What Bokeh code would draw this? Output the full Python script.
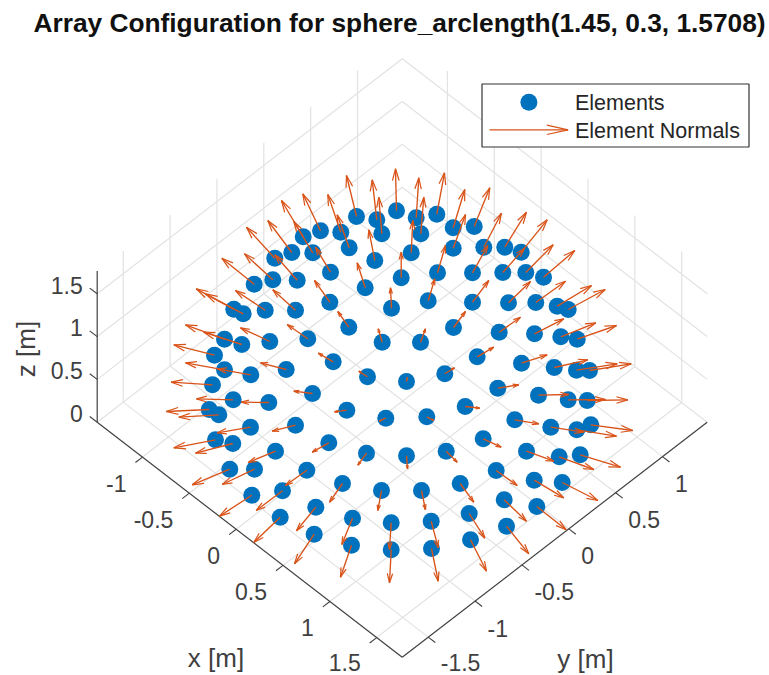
from bokeh.embed import file_html
from bokeh.models import Range1d
from bokeh.plotting import figure
from bokeh.resources import INLINE
import numpy as np

# Axis box (MATLAB-like 3-D view, orthographic projection)
x_limits = [-1.483, 1.772]
y_limits = [-1.778, 1.477]
z_limits = [0.0, 1.765]
x_ticks = [-1, -0.5, 0, 0.5, 1, 1.5]
y_ticks = [-1.5, -1, -0.5, 0, 0.5, 1]
z_ticks = [0, 0.5, 1, 1.5]
x_tick_labels = ["-1", "-0.5", "0", "0.5", "1", "1.5"]
y_tick_labels = ["-1.5", "-1", "-0.5", "0", "0.5", "1"]
z_tick_labels = ["0", "0.5", "1", "1.5"]

# Elements as projected on the picture plane
element_h = [356,376.3,396,381.3,320,340.3,348.7,302.7,291.3,312.3,274.3,374.3,330,296.7,272.3,253.7,364.7,400.7,410.7,329.3,
 295,264.7,233.3,242.7,391,348.3,307.3,269.3,241.3,224,381.7,332.7,285.7,250.3,224,214,212,367,406,312,
 268.3,232.7,208.7,218.3,250,295,346.3,385.3,328.3,215,232.3,275,229.3,254,306.3,366,406,342,381,251.3,
 282,315.3,279.7,352,390.7,313.7,351,390.7,
 415.7,436.3,420.3,452.7,473.7,452.7,483.3,504.3,520.7,472,502.3,525.3,543,437,427.7,472,508,535.3,556.7,567.7,
 453,498.7,534,560.3,576.7,420,476.7,521,553.7,576,589,444.3,497.3,538,567.7,586.7,464.7,426.3,514.3,550.3,
 576.3,590.3,482.7,526,558.7,579.7,445.7,495.7,533.7,561.7,459.7,421,503.7,536.3,468.7,430.7,506,470,431]
element_v = [216,219.3,210.3,233.3,230.3,231.7,247.3,236.3,252,252.3,257.7,260,271.7,279.7,279.3,283.7,287.3,277.3,252.3,301.7,
 309.7,309.7,308.7,313.3,307.7,326.7,338.3,341,344,338.7,341.7,361.3,369,374.3,369.3,354.7,384.3,376.3,381,393,
 402,399.3,409,414.3,426.7,424.7,409.7,417.7,442.3,439.3,443,450.7,468.7,468.7,469.7,452.7,455.3,483,490,494.7,
 490.3,506.7,516.7,517.7,522.3,533.7,544.7,549.3,
 217.3,213.7,233.3,227.3,226,247.7,246.7,246.7,251.7,272.3,272,272,276.7,272.3,300.3,301.7,302.3,302,305.7,309,
 327,331.7,333.3,336.3,338.7,341.7,356.3,362.7,367,369.7,370,373.3,387.7,394.7,399.3,400,406,416.3,419.3,426.7,
 429.3,424.3,438.3,450.7,456.3,454.3,450.7,470,479.7,482,483,490,499.3,506,513,520.7,525.7,539.3,548]
# Tips of the element normals on the same plane
normal_h = [346,371.7,395,378.3,302.3,327.3,336.7,281,267.3,293.3,246,368.3,315,274.3,244,221.3,356.7,400.7,412.3,314,
 272.3,235,195.7,205,390,337.3,286.7,240,203.3,185,377.7,317.7,260,216.7,185,173.3,170.7,358.3,407,293.3,
 240.7,196,165.7,178.3,216.7,271.7,334,378.7,311.7,173.3,195,247.7,191.7,221.7,285,357.3,407,329,377.3,219,
 255.7,296,253.3,341.3,389,294,340,389,
 418.3,444,423.3,464.3,489.3,465,501,526,546.7,487.3,524,552.7,574.3,445,434.3,488.3,530,565,591,604.7,
 465,520,563.3,595.3,616,425,493.3,546.7,587.3,616.7,630.7,454,518.3,568.3,605,627.3,479.3,433.3,538.3,583.3,
 616,632.3,500.7,553.3,593.3,620,456.7,516.7,563.3,597.3,473.3,425,526,565.7,484.3,437.7,528.3,486,437.7]
normal_v = [175,179.3,168.3,196.7,193.3,194,214.3,200,220,221,226.7,229.3,246.7,254.3,253.3,257.7,262.3,251.7,220,280,
 289.3,290,288.3,293.3,287.3,311,324,327.3,331.7,324.3,328.3,352.7,362.3,368.3,362.3,344.3,381.7,370.7,377,390.7,
 401.7,398.3,411,416.7,432.3,430.7,411.3,420.7,451.7,447.3,452.7,462,484.3,484,485,464.7,468.3,501.7,510,515.7,
 510,530.3,542,544,549,563.3,576.7,582.3,
 177.3,172.3,196.7,189,187.3,214,212.7,211.7,219.3,245,247.7,244.3,250,245,278.3,280,281,280.7,285,289,
 311,316.7,318.3,322.3,325,328.3,346.7,354.3,359.3,363.3,363.3,367.3,384.3,394,399,399.3,407.7,420,423.3,431.7,
 435.7,430,446.7,460.7,469,466.7,461.7,485,497.3,500,501.7,509.3,520.7,529.3,537.7,547.3,553.3,570.7,580.7]

title_text = "Array Configuration for sphere_arclength(1.45, 0.3, 1.5708)"
legend_labels = ["Elements", "Element Normals"]

BLUE, ORANGE, DARK, GRID = "#0072BD", "#D95319", "#404040", "#E2E2E2"
W, H = 769, 675
FONT = "Liberation Sans"

# Projection of the 3-D axes box on the picture
ORIGIN = np.array([402.26, 400.4])
EX, EY, EZ = np.array([93.7, 72.2]), np.array([93.7, -72.2]), np.array([0.0, -85.6])
def proj(x, y, z):
    return ORIGIN + x * EX + y * EY + z * EZ

p = figure(width=W, height=H, x_range=Range1d(0, W), y_range=Range1d(H, 0),
           output_backend="svg", toolbar_location=None, min_border=0, outline_line_color=None)
p.axis.visible = False
p.grid.visible = False
p.background_fill_color = "white"

def seg(a, b, **kw):
    a, b = np.array(a), np.array(b)
    p.segment(a[:, 0], a[:, 1], b[:, 0], b[:, 1], **kw)

x0, x1 = x_limits; y0, y1 = y_limits; z0, z1 = z_limits
ga, gb = [], []
for x in x_ticks:
    ga.append(proj(x, y0, z0)); gb.append(proj(x, y1, z0))     # floor
    ga.append(proj(x, y1, z0)); gb.append(proj(x, y1, z1))     # right wall
for y in y_ticks:
    ga.append(proj(x0, y, z0)); gb.append(proj(x1, y, z0))
    ga.append(proj(x0, y, z0)); gb.append(proj(x0, y, z1))
for z in z_ticks:
    ga.append(proj(x0, y0, z)); gb.append(proj(x0, y1, z))
    ga.append(proj(x0, y1, z)); gb.append(proj(x1, y1, z))
seg(ga, gb, line_color=GRID, line_width=1.2)

# Axis lines and ticks
seg([proj(x0, y0, z0), proj(x1, y0, z0), proj(x0, y0, z0)],
    [proj(x1, y0, z0), proj(x1, y1, z0), proj(x0, y0, z1)], line_color=DARK, line_width=1.2)
tick_y = 0.075 * EY
tick_x = 0.075 * EX
ta = [proj(x, y0, z0) for x in x_ticks] + [proj(x1, y, z0) for y in y_ticks] + [proj(x0, y0, z) for z in z_ticks]
tb = [proj(x, y0, z0) - tick_y for x in x_ticks] + [proj(x1, y, z0) + tick_x for y in y_ticks] + \
     [proj(x0, y0, z) + np.array([-7.5, -5.7]) for z in z_ticks]
seg(ta, tb, line_color=DARK, line_width=1.1)

# Elements and normals
p.scatter(element_h, element_v, size=17, marker="circle", fill_color=BLUE, line_color=None)

def arrows(h0, v0, h1, v1, head=0.28, half=0.08, width=1.35):
    h0, v0, h1, v1 = map(lambda q: np.asarray(q, float), (h0, v0, h1, v1))
    dh, dv = h1 - h0, v1 - v0
    p.segment(h0, v0, h1, v1, line_color=ORANGE, line_width=width)
    for s in (-1, 1):
        p.segment(h1, v1, h1 - head * dh + s * half * dv, v1 - head * dv - s * half * dh,
                  line_color=ORANGE, line_width=width * 0.9)

arrows(element_h, element_v, normal_h, normal_v)

# Tick labels
def labels(h, v, txt, size, align, base="middle", color=DARK, angle=0, style="normal"):
    p.text(h, v, text=txt, text_font_size=size, text_align=align, text_baseline=base, text_color=color,
           text_font={"value": FONT}, angle=angle, text_font_style=style)

pts = np.array([proj(x, y0, z0) for x in x_ticks])
labels(pts[:, 0] - 16, np.minimum(pts[:, 1] + 26, 661.5), x_tick_labels, "23px", "right")
pts = np.array([proj(x1, y, z0) for y in y_ticks])
labels(pts[:, 0] + 12.5, np.minimum(pts[:, 1] + 27, 661.5), y_tick_labels, "23px", "left")
pts = np.array([proj(x0, y0, z) for z in z_ticks])
labels(pts[:, 0] - 14.5, pts[:, 1] - 8.6, z_tick_labels, "23px", "right")

# Axis labels and title
labels([215.5], [657], ["x [m]"], "26px", "center")
labels([585], [658], ["y [m]"], "26px", "center")
labels([25.5], [348.5], ["z [m]"], "26px", "center", angle=np.pi / 2)
labels([399], [22], [title_text], "26.3px", "center", color="#111111", style="bold")

# Legend
p.quad(left=[481.5], right=[748.5], top=[83.5], bottom=[146.5], fill_color="white", line_color="#333333", line_width=1.2)
p.scatter([528.4], [101.7], size=17, marker="circle", fill_color=BLUE, line_color=None)
arrows([489], [129.3], [567.6], [129.3], head=0.27, half=0.06)
labels([574.5, 574.5], [102.5, 130.5], legend_labels, "21.5px", "left", color="#262626")

open("out.html", "w").write(file_html(p, INLINE))
